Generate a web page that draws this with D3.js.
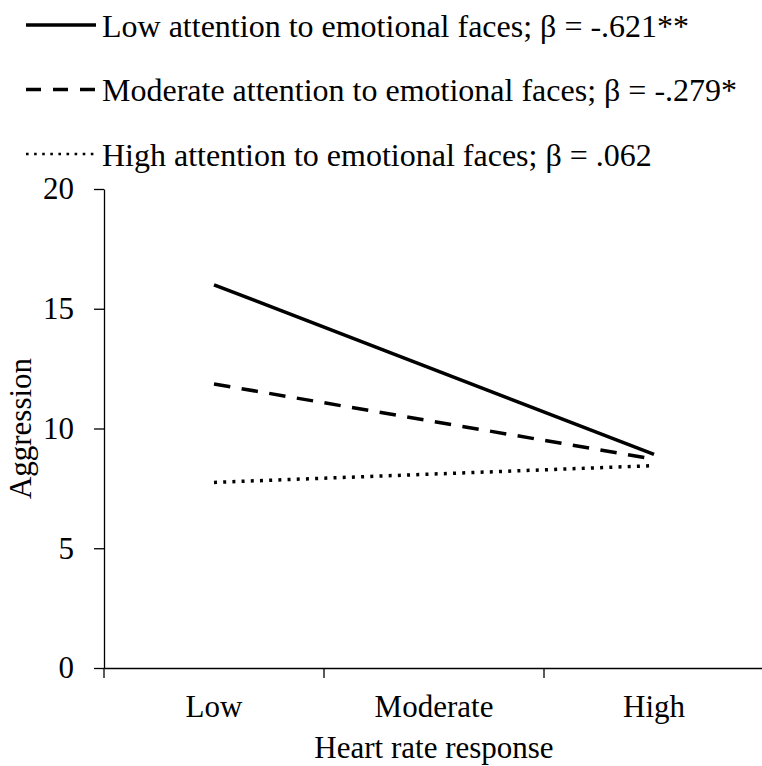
<!DOCTYPE html>
<html>
<head>
<meta charset="utf-8">
<script src="https://cdn.jsdelivr.net/npm/d3@7"></script>
<style>
  body { margin: 0; background: #fff; }
  text { font-family: "Liberation Serif", "Times New Roman", serif; fill: #000; }
</style>
</head>
<body>
<svg id="chart"></svg>
<script>
// heart rate response levels (x categories)
const categories = ["Low", "Moderate", "High"];
const yTicks = [0, 5, 10, 15, 20];

// simple slopes, value at Low and High heart rate response
const seriesNames = [
  "Low attention to emotional faces; β = -.621**",
  "Moderate attention to emotional faces; β = -.279*",
  "High attention to emotional faces; β = .062"
];
const lowAttention = [{ x: "Low", y: 16.0 }, { x: "High", y: 8.92 }];
const modAttention = [{ x: "Low", y: 11.86 }, { x: "High", y: 8.72 }];
const highAttention = [{ x: "Low", y: 7.75 }, { x: "High", y: 8.45 }];

const width = 762, height = 766;
const margin = { top: 189, right: -2, bottom: 98, left: 104 };

const svg = d3.select("#chart")
  .attr("width", width)
  .attr("height", height);

const x = d3.scaleBand()
  .domain(categories)
  .range([margin.left, width - margin.right])
  .paddingInner(0).paddingOuter(0);

const y = d3.scaleLinear()
  .domain([0, 20])
  .range([height - margin.bottom, margin.top]);

// axes
const xAxis = svg.append("g")
  .attr("transform", `translate(0,${y(0)})`)
  .call(d3.axisBottom(x).tickSize(0).tickPadding(27));
xAxis.select(".domain").attr("stroke-width", 1.3);
xAxis.selectAll("text").style("font-size", "31px");
// tick marks between categories
xAxis.selectAll(".sep")
  .data([x.range()[0]].concat(categories.slice(1).map(c => x(c))))
  .join("line")
  .attr("class", "sep")
  .attr("x1", d => d).attr("x2", d => d)
  .attr("y1", 0).attr("y2", 10)
  .attr("stroke", "#000").attr("stroke-width", 1.3);

const yAxis = svg.append("g")
  .attr("transform", `translate(${margin.left},0)`)
  .call(d3.axisLeft(y).tickValues(yTicks).tickSize(10).tickSizeOuter(0).tickPadding(20));
yAxis.select(".domain").attr("stroke-width", 1.3);
yAxis.selectAll(".tick line").attr("stroke-width", 1.3);
yAxis.selectAll("text").style("font-size", "31px");

// axis titles
svg.append("text")
  .attr("x", x("Moderate") + x.bandwidth() / 2)
  .attr("y", 758)
  .attr("text-anchor", "middle")
  .style("font-size", "31px")
  .text("Heart rate response");

svg.append("text")
  .attr("transform", "rotate(-90)")
  .attr("x", -y(10))
  .attr("y", 31)
  .attr("text-anchor", "middle")
  .style("font-size", "31px")
  .text("Aggression");

// lines
const line = d3.line()
  .x(d => x(d.x) + x.bandwidth() / 2)
  .y(d => y(d.y));

const styles = [
  { data: lowAttention, dash: null, legendDash: null },
  { data: modAttention, dash: "16.5,11.5", legendDash: "15,12" },
  { data: highAttention, dash: "3,6.2", legendDash: "2.6,5.5" }
];

svg.selectAll(".series")
  .data(styles)
  .join("path")
  .attr("class", "series")
  .attr("d", d => line(d.data))
  .attr("fill", "none")
  .attr("stroke", "#000")
  .attr("stroke-width", 3.5)
  .attr("stroke-dasharray", d => d.dash);

// legend
const legend = svg.append("g");
const rows = legend.selectAll("g")
  .data(styles)
  .join("g")
  .attr("transform", (d, i) => `translate(26,${25 + i * 64.5})`);

rows.append("line")
  .attr("x1", 0).attr("x2", 70)
  .attr("stroke", "#000")
  .attr("stroke-width", (d, i) => i === 2 ? 2.6 : 3.6)
  .attr("stroke-dasharray", d => d.legendDash);

rows.append("text")
  .attr("x", 76)
  .attr("y", 11.5)
  .style("font-size", "32px")
  .text((d, i) => seriesNames[i]);
</script>
</body>
</html>
